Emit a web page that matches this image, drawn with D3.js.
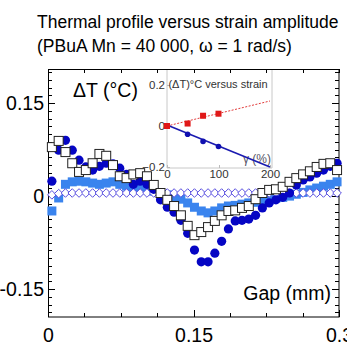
<!DOCTYPE html>
<meta charset="utf-8">
<style>
body { margin: 0; background: #fff; font-family: "Liberation Sans", Arial, sans-serif; }
svg { display: block; }
.frame { fill: none; stroke: #000; stroke-width: 1; }
.axis path { display: none; }
.axis line { stroke: #000; shape-rendering: crispEdges; }
.axis text { font: 19.5px "Liberation Sans", Arial, sans-serif; fill: #000; }
.inset .axis text { font: 11.5px "Liberation Sans", Arial, sans-serif; fill: #333; }
.inset .axis line { stroke: #bbb; }
</style>
<body>
<svg width="347" height="346"></svg>
</body>
<script src="https://d3js.org/d3.v7.min.js"></script>
<script>

// gap positions (mm), shared by the four profiles
var gap = [0.004, 0.011, 0.018, 0.025, 0.032, 0.039, 0.046, 0.053, 0.060, 0.067,
  0.074, 0.081, 0.088, 0.095, 0.102, 0.109, 0.116, 0.123, 0.130, 0.137,
  0.144, 0.151, 0.158, 0.165, 0.172, 0.179, 0.186, 0.193, 0.200, 0.207,
  0.214, 0.221, 0.228, 0.235, 0.242, 0.249, 0.256, 0.263, 0.270, 0.277,
  0.284, 0.291, 0.298];

// delta T (degC) for each strain amplitude
var dtCircles = [0.024, 0.074, 0.090, 0.074, 0.058, 0.047, 0.042, 0.048, 0.053, 0.052,
  0.045, 0.035, 0.019, 0.024, 0.019, 0.011, -0.006, -0.018, -0.026, -0.039,
  -0.060, -0.087, -0.106, -0.106, -0.092, -0.073, -0.053, -0.040, -0.039, -0.037,
  -0.031, -0.019, -0.011, -0.006, -0.002, 0.005, 0.018, 0.026, 0.031, 0.037,
  0.042, 0.048, 0.053];
var dtOpenSquares = [0.079, 0.089, 0.071, 0.053, 0.039, 0.042, 0.053, 0.068, 0.065, 0.050,
  0.032, 0.029, 0.035, 0.037, 0.032, 0.018, 0.005, -0.006, -0.016, -0.031,
  -0.048, -0.063, -0.058, -0.050, -0.040, -0.031, -0.024, -0.023, -0.019, -0.016,
  -0.005, 0.005, 0.010, 0.011, 0.015, 0.023, 0.029, 0.035, 0.040, 0.047,
  0.052, 0.053, 0.042];
var dtLightSquares = [-0.024, -0.003, 0.019, 0.023, 0.024, 0.023, 0.021, 0.019, 0.021, 0.023,
  0.019, 0.016, 0.015, 0.013, 0.011, 0.008, 0.005, 0.002, -0.002, -0.005,
  -0.011, -0.018, -0.024, -0.027, -0.024, -0.019, -0.016, -0.015, -0.013, -0.011,
  -0.010, -0.008, -0.006, -0.003, -0.002, 0.000, 0.003, 0.006, 0.010, 0.013,
  0.016, 0.019, 0.023];
var dtDiamonds = [0.002, 0.004, 0.005, 0.005, 0.005, 0.005, 0.005, 0.005, 0.005, 0.005,
  0.005, 0.005, 0.005, 0.005, 0.005, 0.005, 0.005, 0.005, 0.005, 0.005,
  0.005, 0.005, 0.005, 0.005, 0.005, 0.005, 0.005, 0.005, 0.005, 0.005,
  0.005, 0.005, 0.005, 0.005, 0.005, 0.005, 0.005, 0.005, 0.005, 0.005,
  0.005, 0.005, 0.005];

// inset: delta T versus strain (%)
var strain = [0, 40, 70, 100];
var dtHeat = [0, 0.012, 0.050, 0.060];
var dtHeatErr = [0, 0.005, 0.012, 0.012];
var dtCool = [0, -0.040, -0.075, -0.100];
var fitStrain = [0, 200];
var fitHeat = [0, 0.122];
var fitCool = [0.005, -0.200];

var xTicks = [0, 0.15, 0.3];
var yTicks = [-0.15, 0, 0.15];
var insetXTicks = [0, 100, 200];
var insetYTicks = [-0.2, 0, 0.2];

var svg = d3.select("svg");

var x = d3.scaleLinear().domain([0, 0.3]).range([48, 339]);
var y = d3.scaleLinear().domain([-0.195, 0.205]).range([317, 69]);

// titles
svg.append("text").attr("x", 37).attr("y", 28)
    .style("font-size", "17.5px").text("Thermal profile versus strain amplitude");
svg.append("text").attr("x", 37).attr("y", 52)
    .style("font-size", "17.5px").text("(PBuA Mn = 40 000, \u03c9 = 1 rad/s)");

// inset, drawn first so the profiles sit on top of its labels
var ix = d3.scaleLinear().domain([0, 200]).range([167, 270]);
var iy = d3.scaleLinear().domain([-0.2, 0.2]).range([167, 85]);
var inset = svg.append("g").attr("class", "inset");

inset.append("path")
    .attr("d", "M167,70V168H272V70")
    .attr("fill", "none").attr("stroke", "#c8c8c8");

inset.append("g").attr("class", "axis")
    .attr("transform", "translate(0,168)")
    .call(d3.axisBottom(ix).tickValues(insetXTicks).tickSize(-3).tickPadding(2));
inset.append("g").attr("class", "axis")
    .attr("transform", "translate(167,0)")
    .call(d3.axisLeft(iy).tickValues(insetYTicks).tickSize(-3).tickPadding(2)
      .tickFormat(function(d) { return d === 0 ? "0" : d3.format(".1f")(d); }));

inset.append("text").attr("x", 218).attr("y", 88).attr("text-anchor", "middle")
    .style("font-size", "11px").attr("fill", "#333").text("(\u0394T)\u00b0C versus strain");
inset.append("text").attr("x", 243).attr("y", 163)
    .style("font-size", "12px").attr("fill", "#556").text("\u03b3 (%)");

var line = d3.line().x(function(d) { return ix(d[0]); }).y(function(d) { return iy(d[1]); });

inset.append("path")
    .attr("d", line(d3.zip(fitStrain, fitHeat)))
    .attr("fill", "none").attr("stroke", "#e23a3a").attr("stroke-width", 1)
    .attr("stroke-dasharray", "2,1.5");
inset.append("path")
    .attr("d", line(d3.zip(fitStrain, fitCool)))
    .attr("fill", "none").attr("stroke", "#1a1ab0").attr("stroke-width", 1.6);

inset.selectAll(".err").data(d3.range(strain.length)).enter().append("line")
    .attr("x1", function(i) { return ix(strain[i]); })
    .attr("x2", function(i) { return ix(strain[i]); })
    .attr("y1", function(i) { return iy(dtHeat[i] - dtHeatErr[i]); })
    .attr("y2", function(i) { return iy(dtHeat[i] + dtHeatErr[i]); })
    .attr("stroke", "#e02020").attr("stroke-width", 1.2);
inset.selectAll(".heat").data(d3.range(strain.length)).enter().append("rect")
    .attr("x", function(i) { return ix(strain[i]) - 3; })
    .attr("y", function(i) { return iy(dtHeat[i]) - 3; })
    .attr("width", 6).attr("height", 6).attr("fill", "#e01818");
inset.selectAll(".cool").data(d3.range(strain.length)).enter().append("circle")
    .attr("cx", function(i) { return ix(strain[i]); })
    .attr("cy", function(i) { return iy(dtCool[i]); })
    .attr("r", 2.8).attr("fill", function(i) { return i === 0 ? "#e01818" : "#1010b0"; });

// main frame and ticks
svg.append("rect").attr("class", "frame")
    .attr("x", 48.5).attr("y", 69.5).attr("width", 290.5).attr("height", 247.5);

var minorX = d3.range(0, 0.3001, 0.0375);
var minorY = d3.range(-0.1875, 0.2001, 0.0125);

svg.append("g").attr("class", "axis").attr("transform", "translate(0,317)")
    .call(d3.axisBottom(x).tickValues(minorX).tickSize(-4).tickFormat(""));
svg.append("g").attr("class", "axis").attr("transform", "translate(0,69)")
    .call(d3.axisTop(x).tickValues(minorX).tickSize(-4).tickFormat(""));
svg.append("g").attr("class", "axis").attr("transform", "translate(48,0)")
    .call(d3.axisLeft(y).tickValues(minorY).tickSize(-4).tickFormat(""));
svg.append("g").attr("class", "axis").attr("transform", "translate(339,0)")
    .call(d3.axisRight(y).tickValues(minorY).tickSize(-4).tickFormat(""));

svg.append("g").attr("class", "axis").attr("transform", "translate(0,317)")
    .call(d3.axisBottom(x).tickValues(xTicks).tickSize(-7).tickPadding(11)
      .tickFormat(function(d) { return d === 0 ? "0" : String(d); }));
svg.append("g").attr("class", "axis").attr("transform", "translate(48,0)")
    .call(d3.axisLeft(y).tickValues(yTicks).tickSize(-7).tickPadding(4)
      .tickFormat(function(d) { return d === 0 ? "0" : String(d); }));
svg.append("g").attr("class", "axis").attr("transform", "translate(339,0)")
    .call(d3.axisRight(y).tickValues(yTicks).tickSize(-7).tickFormat(""));

svg.append("text").attr("x", 73).attr("y", 97)
    .style("font-size", "19.5px").text("\u0394T (\u00b0C)");
svg.append("text").attr("x", 331).attr("y", 300).attr("text-anchor", "end")
    .style("font-size", "19.5px").text("Gap (mm)");

// profiles
var idx = d3.range(gap.length);
var plot = svg.append("g");

plot.selectAll(".lsq").data(idx).enter().append("rect")
    .attr("x", function(i) { return x(gap[i]) - 4.5; })
    .attr("y", function(i) { return y(dtLightSquares[i]) - 4.5; })
    .attr("width", 9).attr("height", 9).attr("fill", "#3a84ee");

plot.selectAll(".dia").data(idx).enter().append("path")
    .attr("d", function(i) {
      var cx = x(gap[i]), cy = y(dtDiamonds[i]);
      return "M" + cx + "," + (cy - 4.3) + "L" + (cx + 4.3) + "," + cy + "L" + cx + "," + (cy + 4.3) + "L" + (cx - 4.3) + "," + cy + "Z";
    })
    .attr("fill", "#fff").attr("stroke", "#5a50e0").attr("stroke-width", 1);

plot.selectAll(".dot").data(idx).enter().append("circle")
    .attr("cx", function(i) { return x(gap[i]); })
    .attr("cy", function(i) { return y(dtCircles[i]); })
    .attr("r", 4.6).attr("fill", "#0505c4");

plot.selectAll(".osq").data(idx).enter().append("rect")
    .attr("x", function(i) { return x(gap[i]) - 4.5; })
    .attr("y", function(i) { return y(dtOpenSquares[i]) - 4.5; })
    .attr("width", 9).attr("height", 9)
    .attr("fill", "#fff").attr("stroke", "#222").attr("stroke-width", 1);

</script>
